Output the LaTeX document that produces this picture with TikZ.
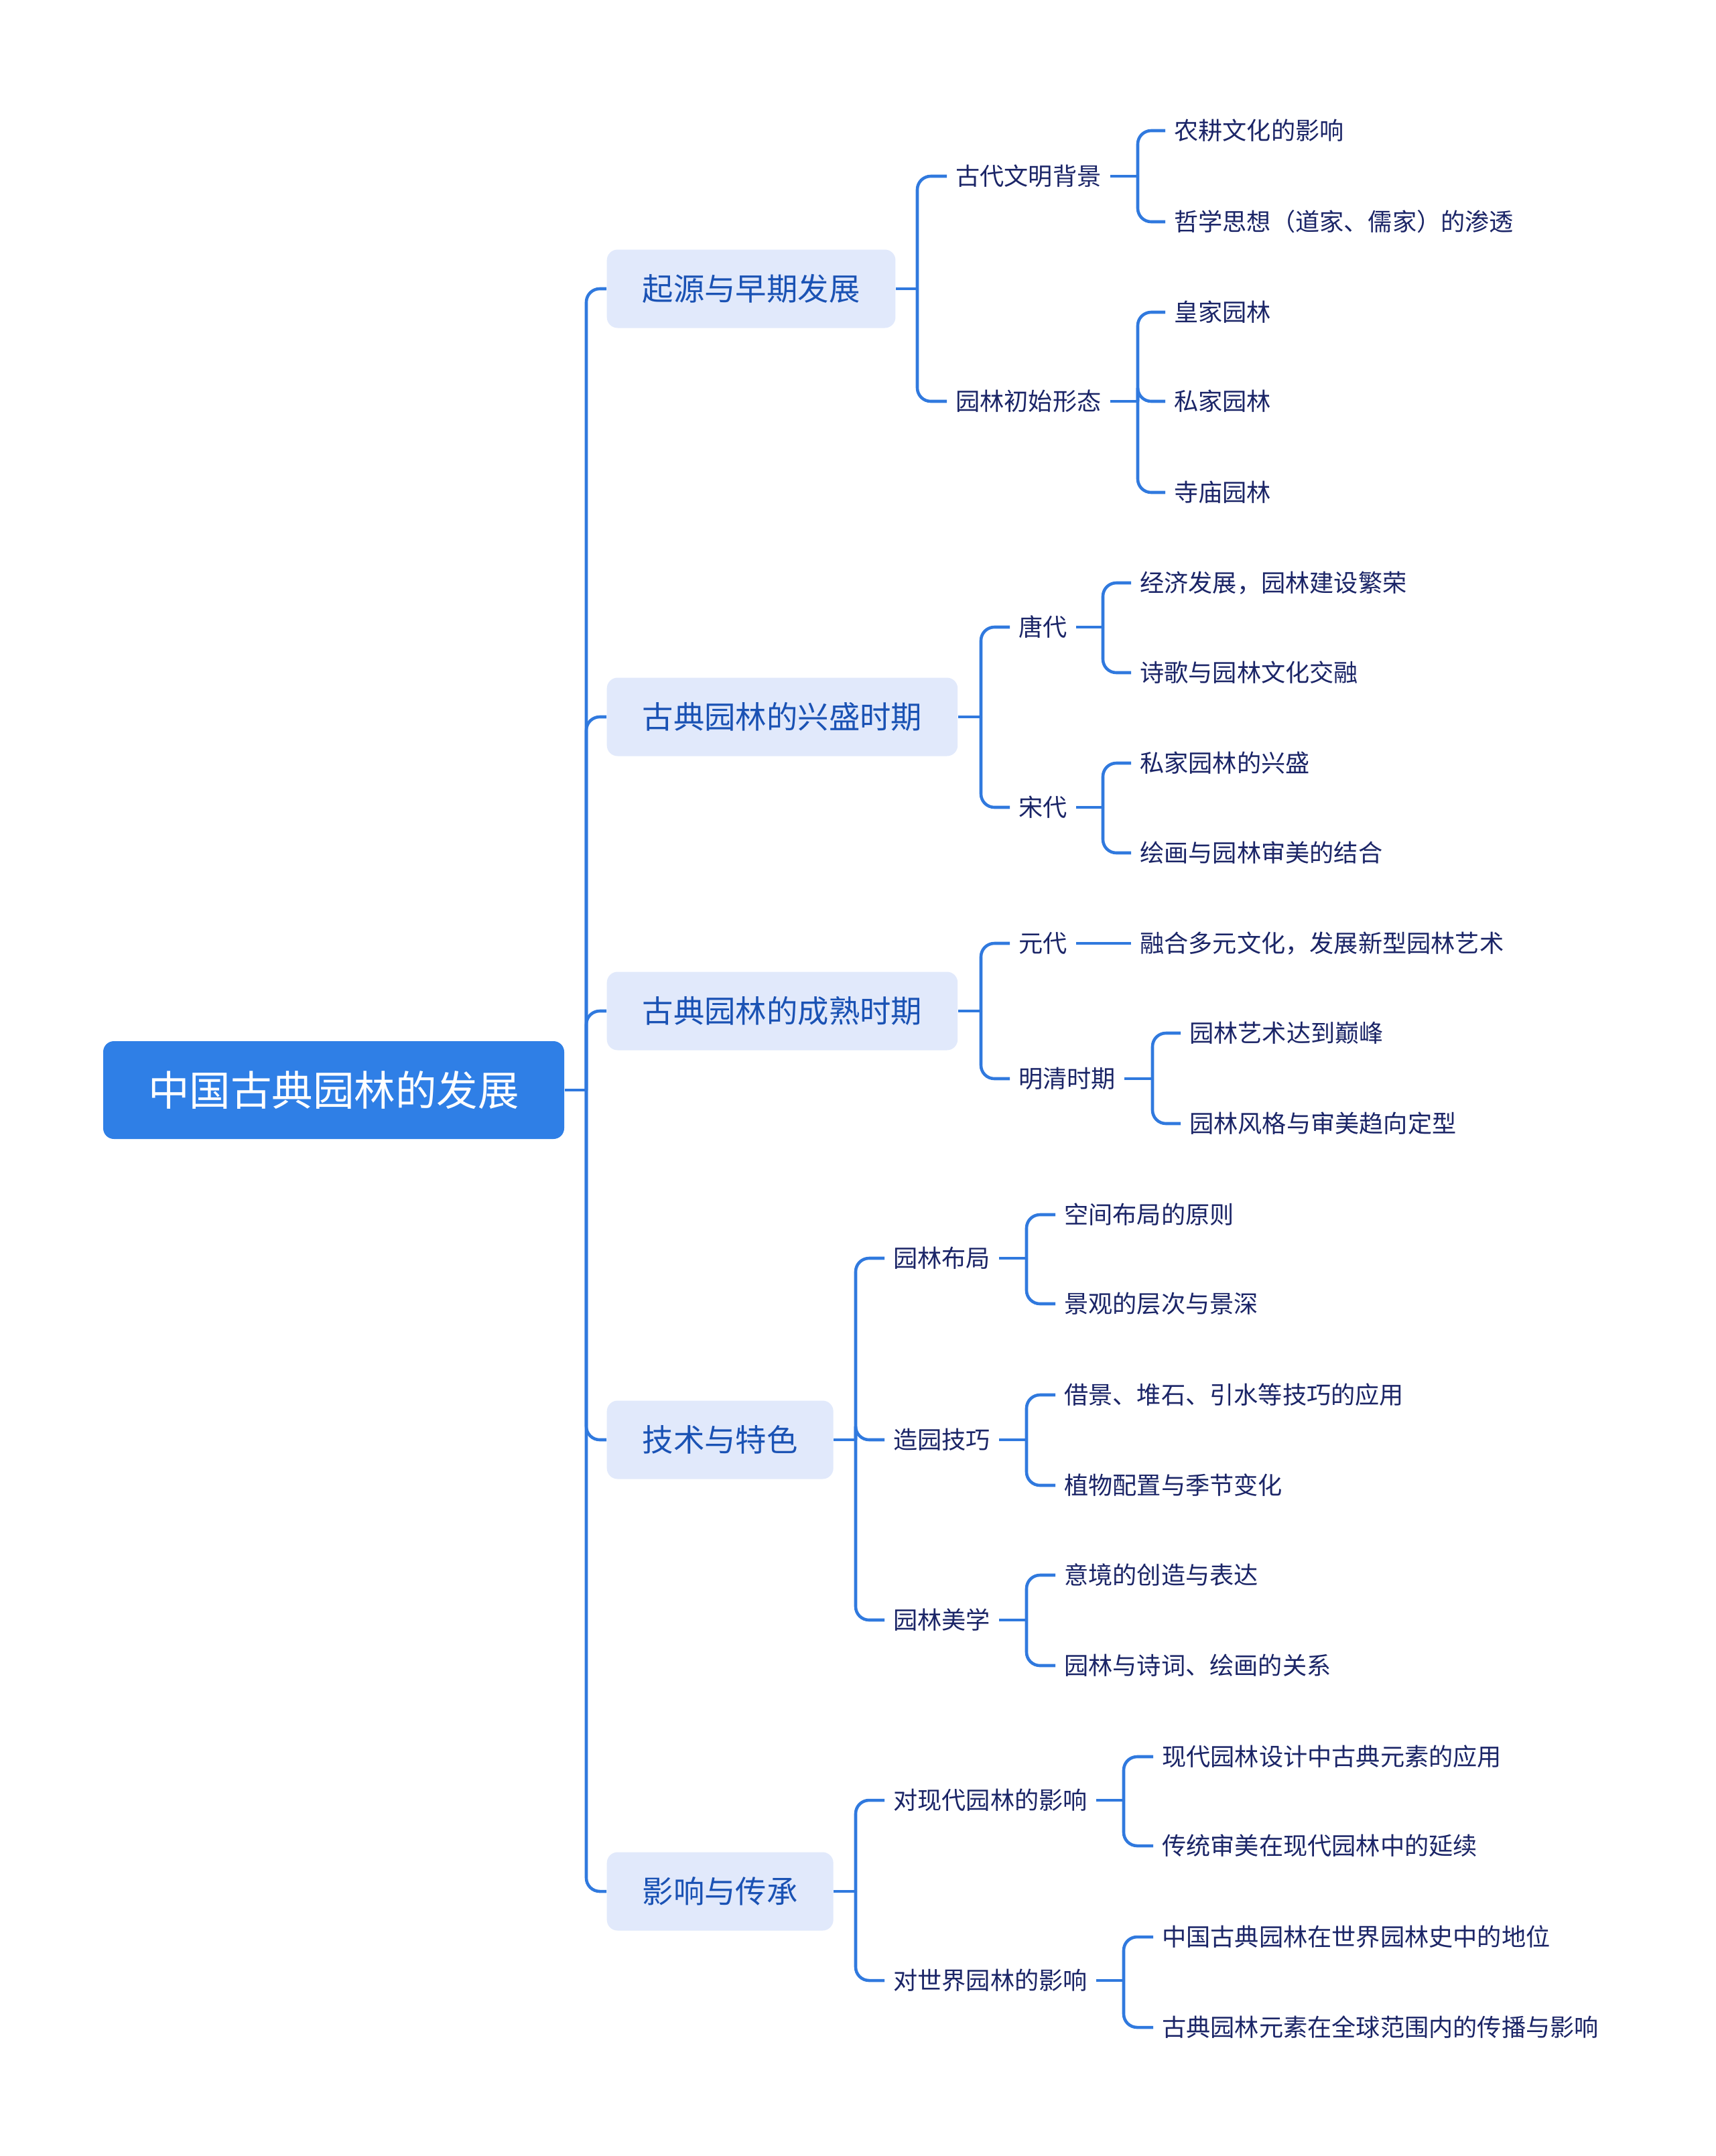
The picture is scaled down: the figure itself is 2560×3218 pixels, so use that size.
\documentclass[tikz,border=0pt]{standalone}
\usepackage{fontspec}
\usepackage{xcolor}
\usetikzlibrary{positioning}
\newfontfamily\cjk{Noto Sans CJK SC}
\definecolor{gdRoot}{HTML}{2F7FE6}
\definecolor{gdFill}{HTML}{E1E9FB}
\definecolor{gdTopic}{HTML}{1A52B4}
\definecolor{gdInk}{HTML}{1B2567}
\definecolor{gdLine}{HTML}{3079DE}
\tikzset{
  rootBox/.style={fill=gdRoot, text=white, rounded corners=1.6mm, minimum width=68.8mm, minimum height=14.6mm, font=\cjk\fontsize{17.5}{20}\selectfont},
  topicBox/.style={fill=gdFill, text=gdTopic, rounded corners=1.6mm, minimum height=11.7mm, inner xsep=5.3mm, inner ysep=1mm, anchor=west, font=\cjk\fontsize{13.2}{16}\selectfont},
  leafText/.style={text=gdInk, inner xsep=1.25mm, inner ysep=1mm, anchor=west, font=\cjk\fontsize{10.3}{12}\selectfont},
  linkLine/.style={draw=gdLine, line width=1.3pt},
  braceLine/.style={linkLine, rounded corners=2mm}
}

\begin{document}
\begin{tikzpicture}[x=0.1mm,y=-0.1mm]
  \useasboundingbox (0,0) rectangle (2560,3218);
  % root and main topics
  \node[rootBox] (root) at (498,1627) {中国古典园林的发展};
  \node[topicBox] (origin) at (905,431) {起源与早期发展};
  \node[topicBox] (boom) at (905,1070) {古典园林的兴盛时期};
  \node[topicBox] (mature) at (905,1509) {古典园林的成熟时期};
  \node[topicBox] (tech) at (905,2149) {技术与特色};
  \node[topicBox] (legacy) at (905,2823) {影响与传承};
  \coordinate (trunk) at (875,1627);
  \draw[linkLine] (root.east) -- (trunk);
  \foreach \t in {origin,boom,mature,tech,legacy}
    \draw[braceLine] (trunk) |- (\t.west);

  % origin
  \node[leafText] (civ) at (1413,263) {古代文明背景};
  \node[leafText] (form) at (1413,599) {园林初始形态};
  \node[leafText] (farm) at (1739,195) {农耕文化的影响};
  \node[leafText] (philo) at (1739,331) {哲学思想（道家、儒家）的渗透};
  \node[leafText] (royal) at (1739,466) {皇家园林};
  \node[leafText] (priv) at (1739,599) {私家园林};
  \node[leafText] (temple) at (1739,735) {寺庙园林};
  \coordinate (originJ) at (1369,431);
  \coordinate (civJ) at (1698,263);
  \coordinate (formJ) at (1698,599);
  \draw[linkLine] (origin.east) -- (originJ);
  \foreach \c in {civ,form} \draw[braceLine] (originJ) |- (\c.west);
  \draw[linkLine] (civ.east) -- (civJ);
  \foreach \c in {farm,philo} \draw[braceLine] (civJ) |- (\c.west);
  \draw[linkLine] (form.east) -- (formJ);
  \foreach \c in {royal,priv,temple} \draw[braceLine] (formJ) |- (\c.west);

  % boom
  \node[leafText] (tang) at (1507,936) {唐代};
  \node[leafText] (song) at (1507,1205) {宋代};
  \node[leafText] (econ) at (1688,870) {经济发展，园林建设繁荣};
  \node[leafText] (poem) at (1688,1004) {诗歌与园林文化交融};
  \node[leafText] (privrise) at (1688,1139) {私家园林的兴盛};
  \node[leafText] (paint) at (1688,1273) {绘画与园林审美的结合};
  \coordinate (boomJ) at (1464,1070);
  \coordinate (tangJ) at (1646,936);
  \coordinate (songJ) at (1646,1205);
  \draw[linkLine] (boom.east) -- (boomJ);
  \foreach \c in {tang,song} \draw[braceLine] (boomJ) |- (\c.west);
  \draw[linkLine] (tang.east) -- (tangJ);
  \foreach \c in {econ,poem} \draw[braceLine] (tangJ) |- (\c.west);
  \draw[linkLine] (song.east) -- (songJ);
  \foreach \c in {privrise,paint} \draw[braceLine] (songJ) |- (\c.west);

  % mature
  \node[leafText] (yuan) at (1507,1408) {元代};
  \node[leafText] (mq) at (1507,1610) {明清时期};
  \node[leafText] (yuanart) at (1688,1408) {融合多元文化，发展新型园林艺术};
  \node[leafText] (peak) at (1762,1542) {园林艺术达到巅峰};
  \node[leafText] (style) at (1762,1677) {园林风格与审美趋向定型};
  \coordinate (matureJ) at (1464,1509);
  \coordinate (mqJ) at (1720,1610);
  \draw[linkLine] (mature.east) -- (matureJ);
  \foreach \c in {yuan,mq} \draw[braceLine] (matureJ) |- (\c.west);
  \draw[linkLine] (yuan.east) -- (yuanart.west);
  \draw[linkLine] (mq.east) -- (mqJ);
  \foreach \c in {peak,style} \draw[braceLine] (mqJ) |- (\c.west);

  % tech
  \node[leafText] (layout) at (1320,1878) {园林布局};
  \node[leafText] (craft) at (1320,2149) {造园技巧};
  \node[leafText] (aes) at (1320,2418) {园林美学};
  \node[leafText] (space) at (1575,1813) {空间布局的原则};
  \node[leafText] (depth) at (1575,1946) {景观的层次与景深};
  \node[leafText] (borrow) at (1575,2082) {借景、堆石、引水等技巧的应用};
  \node[leafText] (plant) at (1575,2217) {植物配置与季节变化};
  \node[leafText] (mood) at (1575,2351) {意境的创造与表达};
  \node[leafText] (poetry) at (1575,2486) {园林与诗词、绘画的关系};
  \coordinate (techJ) at (1277,2149);
  \coordinate (layoutJ) at (1532,1878);
  \coordinate (craftJ) at (1532,2149);
  \coordinate (aesJ) at (1532,2418);
  \draw[linkLine] (tech.east) -- (techJ);
  \foreach \c in {layout,craft,aes} \draw[braceLine] (techJ) |- (\c.west);
  \draw[linkLine] (layout.east) -- (layoutJ);
  \foreach \c in {space,depth} \draw[braceLine] (layoutJ) |- (\c.west);
  \draw[linkLine] (craft.east) -- (craftJ);
  \foreach \c in {borrow,plant} \draw[braceLine] (craftJ) |- (\c.west);
  \draw[linkLine] (aes.east) -- (aesJ);
  \foreach \c in {mood,poetry} \draw[braceLine] (aesJ) |- (\c.west);

  % legacy
  \node[leafText] (modern) at (1320,2687) {对现代园林的影响};
  \node[leafText] (world) at (1320,2956) {对世界园林的影响};
  \node[leafText] (modapply) at (1721,2622) {现代园林设计中古典元素的应用};
  \node[leafText] (modcont) at (1721,2755) {传统审美在现代园林中的延续};
  \node[leafText] (status) at (1721,2891) {中国古典园林在世界园林史中的地位};
  \node[leafText] (spread) at (1721,3026) {古典园林元素在全球范围内的传播与影响};
  \coordinate (legacyJ) at (1277,2823);
  \coordinate (modernJ) at (1677,2687);
  \coordinate (worldJ) at (1677,2956);
  \draw[linkLine] (legacy.east) -- (legacyJ);
  \foreach \c in {modern,world} \draw[braceLine] (legacyJ) |- (\c.west);
  \draw[linkLine] (modern.east) -- (modernJ);
  \foreach \c in {modapply,modcont} \draw[braceLine] (modernJ) |- (\c.west);
  \draw[linkLine] (world.east) -- (worldJ);
  \foreach \c in {status,spread} \draw[braceLine] (worldJ) |- (\c.west);
\end{tikzpicture}
\end{document}
